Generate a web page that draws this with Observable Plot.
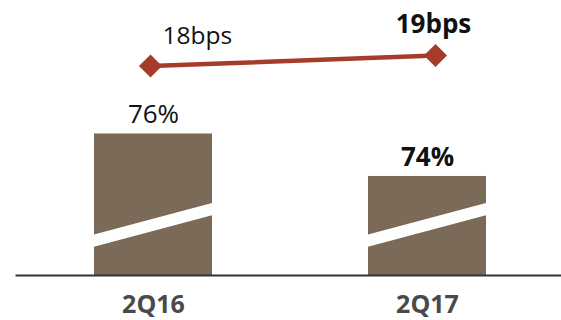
<!DOCTYPE html>
<html><head><meta charset="utf-8">
<script src="https://cdn.jsdelivr.net/npm/d3@7"></script>
<script src="https://cdn.jsdelivr.net/npm/@observablehq/plot@0.6"></script>
<style>
html,body{margin:0;padding:0;background:#fff;}
#chart{position:relative;width:561px;height:320px;}
#chart svg{position:absolute;left:0;top:0;}
</style></head><body><div id="chart"></div>
<script>
// ---- data ----
const periods = ["2Q16", "2Q17"];
const ratioPct = [76, 74];
const ratioLabels = ["76%", "74%"];
const spreadBps = [18, 19];
const spreadLabels = ["18bps", "19bps"];
// axis-break stripe (in % units of the bar scale)
const breakLeft = 70.96;
const breakRight = 72.44;
const breakHalf = 0.29;

const bars = periods.map((p, i) => ({period: p, value: ratioPct[i], label: ratioLabels[i]}));
const spread = periods.map((p, i) => ({period: p, value: spreadBps[i], label: spreadLabels[i]}));

const W = 561, H = 320;
const font = "'Open Sans', sans-serif";
const barColor = "#7a6a57";
const lineColor = "#a63b2b";

function stripes(index, scales) {
  const sx = scales.x, sy = scales.y;
  const bw = typeof sx.bandwidth === "function" ? sx.bandwidth() : sx.bandwidth;
  const g = d3.create("svg:g");
  for (const p of periods) {
    const x0 = sx(p), x1 = x0 + bw;
    const pts = [
      [x0, sy(breakLeft + breakHalf)],
      [x1, sy(breakRight + breakHalf)],
      [x1, sy(breakRight - breakHalf)],
      [x0, sy(breakLeft - breakHalf)]
    ];
    g.append("polygon").attr("points", pts.map(d => d.join(",")).join(" ")).attr("fill", "#fff");
  }
  return g.node();
}

const barPlot = Plot.plot({
  width: W, height: H,
  marginLeft: 16, marginRight: 0, marginTop: 0, marginBottom: 45,
  style: {fontFamily: font, background: "transparent"},
  x: {domain: periods, paddingInner: 0.57, paddingOuter: 0, insetLeft: 78, insetRight: 74.3},
  y: {domain: [69.34, 82.28], clamp: true, axis: null},
  marks: [
    Plot.barY(bars, {x: "period", y: "value", fill: barColor}),
    stripes,
    Plot.text(bars.filter((d, i) => i === 0), {x: "period", y: "value", text: "label", lineAnchor: "bottom", dy: -10.5, fontSize: 26, fill: "#111"}),
    Plot.text(bars.filter((d, i) => i === 1), {x: "period", y: "value", text: "label", lineAnchor: "bottom", dy: -10.5, fontSize: 26, fontWeight: "bold", fill: "#111"}),
    Plot.axisX({tickSize: 0, tickPadding: 19.7, fontSize: 25, fontWeight: "bold", fill: "#4a4a4a", label: null}),
    Plot.frame({anchor: "bottom", stroke: "#333", strokeWidth: 2})
  ]
});

const linePlot = Plot.plot({
  width: W, height: H,
  marginLeft: 16, marginRight: 0, marginTop: 0, marginBottom: 45,
  style: {fontFamily: font, background: "transparent"},
  x: {type: "point", domain: periods, padding: 0, insetLeft: 134, insetRight: 125.2, axis: null},
  y: {domain: [-1.95, 24.24], axis: null},
  marks: [
    Plot.line(spread, {x: "period", y: "value", stroke: lineColor, strokeWidth: 4.5}),
    Plot.dot(spread, {x: "period", y: "value", symbol: "diamond2", r: 10.4, fill: lineColor, stroke: "none"}),
    Plot.text(spread.filter((d, i) => i === 0), {x: "period", y: "value", text: "label", textAnchor: "start", lineAnchor: "bottom", dx: 12, dy: -22, fontSize: 24.5, fill: "#111"}),
    Plot.text(spread.filter((d, i) => i === 1), {x: "period", y: "value", text: "label", lineAnchor: "bottom", dx: -2, dy: -23, fontSize: 26, fontWeight: "bold", fill: "#111"})
  ]
});

const chart = document.getElementById("chart");
chart.appendChild(barPlot);
chart.appendChild(linePlot);
</script>
</body></html>
